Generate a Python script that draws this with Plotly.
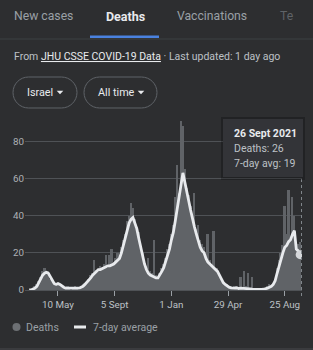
import pandas as pd
import plotly.graph_objects as go

# ---------------- data ----------------
start_date = "2020-03-11"
n_points = 142  # one value every 4 days up to 26 Sept 2021
dates = pd.date_range(start_date, periods=n_points, freq="4D")

avg_7day = [
    0, 0, 0.5, 1, 2, 4, 6, 8, 9, 9.5,
    9, 7, 5, 3.5, 3, 3.5, 3, 2, 1.5, 1,
    1, 1, 0.8, 1, 1, 1.2, 1, 1.5, 2, 3,
    4, 5, 6.5, 8, 9, 10, 11, 11, 11.5, 12,
    12.5, 13, 13, 13.5, 14, 15, 16, 17, 20, 24,
    28, 32, 36, 38, 39, 36, 33, 28, 23, 18,
    14, 11, 9, 8, 7.5, 7, 6.5, 6.5, 8, 10,
    12, 15, 18, 22, 27, 31, 37, 43, 49, 55,
    63, 58, 52, 48, 43, 38, 34, 30, 26, 23,
    21, 20, 17, 15, 14, 13, 12, 11, 10, 8,
    6, 4, 3, 2, 1.5, 1.2, 1, 1, 1.2, 0.8,
    1, 1, 0.8, 1, 0.8, 0.6, 0.5, 0.4, 0.4, 0.3,
    0.4, 0.3, 0.4, 0.5, 1, 1.5, 2, 3, 5, 9,
    13, 17, 20, 23, 24, 26, 27, 30, 32, 22,
    21, 19,
]

deaths = [
    0, 0, 1, 2, 3, 5, 7, 10, 12, 9,
    10, 6, 5, 4, 2, 4, 3, 2, 1, 1,
    2, 1, 0, 1, 2, 1, 0, 2, 3, 4,
    3, 6, 8, 9, 16, 11, 10, 13, 12, 14,
    19, 12, 19, 22, 15, 17, 20, 19, 23, 27,
    30, 37, 40, 47, 44, 38, 34, 31, 22, 20,
    15, 12, 17, 10, 9, 27, 8, 7, 9, 12,
    14, 17, 22, 25, 30, 35, 50, 67, 52, 91,
    88, 65, 55, 51, 45, 40, 52, 33, 35, 27,
    25, 23, 19, 30, 16, 14, 32, 12, 12, 9,
    7, 5, 3, 3, 2, 2, 1, 2, 1, 1,
    7, 1, 10, 2, 9, 1, 7, 1, 0, 1,
    1, 0, 1, 1, 2, 3, 2, 4, 6, 12,
    16, 20, 24, 45, 30, 54, 28, 50, 40, 26,
    25, 26,
]

tick_dates = ["2020-05-10", "2020-09-05", "2021-01-01", "2021-04-29", "2021-08-25"]
tick_labels = ["10 May", "5 Sept", "1 Jan", "29 Apr", "25 Aug"]
y_ticks = [0, 20, 40, 60, 80]

tabs = ["New cases", "Deaths", "Vaccinations", "Te"]
source_name = "JHU CSSE COVID-19 Data"
country = "Israel"
period = "All time"
hover_date = "26 Sept 2021"

# ---------------- style / layout ----------------
W, H = 313, 350
L, R, T, B = 25, 11, 119, 60
BG = "#2d2e30"
FONT = "Roboto"
GRID = "#4f5256"
MUTED = "#9aa0a6"
LIGHT = "#e8eaed"

PW = W - L - R
PH = H - T - B


def px(x):
    return (x - L) / PW


def py(y):
    return (H - B - y) / PH


fig = go.Figure()
fig.add_trace(go.Bar(
    x=dates, y=deaths, width=4 * 86400000,
    marker=dict(color="#606367", line=dict(width=0)),
    name="Deaths", hoverinfo="skip",
))
fig.add_trace(go.Scatter(
    x=dates, y=avg_7day, mode="lines",
    line=dict(color=LIGHT, width=2.8),
    name="7-day average", hoverinfo="skip",
))
fig.add_trace(go.Scatter(
    x=[dates[-1]], y=[avg_7day[-1]], mode="markers",
    marker=dict(size=9, color="#d5d7da"), hoverinfo="skip", showlegend=False,
))

shapes = []
annotations = []


def text(x, y, s, size=12, color=MUTED, bold=False, anchor="left"):
    if bold:
        s = "<b>" + s + "</b>"
    annotations.append(dict(
        x=px(x), y=py(y), xref="paper", yref="paper", text=s, showarrow=False,
        xanchor=anchor, yanchor="middle",
        font=dict(family=FONT, size=size, color=color),
    ))


def rect(x0, y0, x1, y1, fill, line=None):
    shapes.append(dict(
        type="rect", xref="paper", yref="paper",
        x0=px(x0), x1=px(x1), y0=py(y1), y1=py(y0),
        fillcolor=fill, line=dict(width=0) if line is None else line,
        layer="above",
    ))


def pill(x0, y0, x1, y1, color):
    r = (y1 - y0) / 2
    k = 0.5523 * r
    ym = (y0 + y1) / 2

    def p(x, y):
        return f"{px(x):.5f},{py(y):.5f}"

    d = (
        f"M{p(x0 + r, y0)} L{p(x1 - r, y0)} "
        f"C{p(x1 - r + k, y0)} {p(x1, ym - k)} {p(x1, ym)} "
        f"C{p(x1, ym + k)} {p(x1 - r + k, y1)} {p(x1 - r, y1)} "
        f"L{p(x0 + r, y1)} "
        f"C{p(x0 + r - k, y1)} {p(x0, ym + k)} {p(x0, ym)} "
        f"C{p(x0, ym - k)} {p(x0 + r - k, y0)} {p(x0 + r, y0)} Z"
    )
    shapes.append(dict(type="path", xref="paper", yref="paper", path=d,
                       line=dict(color=color, width=1), layer="above"))


def tri(cx, cy, color):
    d = (f"M{px(cx - 3.3):.5f},{py(cy - 1.7):.5f} L{px(cx + 3.3):.5f},{py(cy - 1.7):.5f} "
         f"L{px(cx):.5f},{py(cy + 1.8):.5f} Z")
    shapes.append(dict(type="path", xref="paper", yref="paper", path=d,
                       fillcolor=color, line=dict(width=0), layer="above"))


# tabs
text(12, 16, tabs[0], 12.2, MUTED)
text(104, 16, tabs[1], 12.5, LIGHT, bold=True)
text(175, 16, tabs[2], 12.2, MUTED)
text(278, 16, tabs[3], 12.2, "#5f6368")
rect(90, 35.5, 159, 38, "#4a82e0")
rect(0, 38.5, W, 39.5, "#3c4043")

# source line
annotations.append(dict(
    x=px(12), y=py(56.5), xref="paper", yref="paper", showarrow=False,
    xanchor="left", yanchor="middle",
    text=("From <span style='text-decoration:underline;color:#e8eaed'>" + source_name +
          "</span> · Last updated: 1 day ago"),
    font=dict(family=FONT, size=10.5, color="#bdc1c6"),
))

# filter pills
pill(13, 77, 77, 108, "#5f6368")
pill(84, 77, 157, 108, "#5f6368")
text(24.5, 92.5, country, 10.8, LIGHT)
tri(60, 92.5, LIGHT)
text(95.5, 92.5, period, 10.8, LIGHT)
tri(141, 92.5, LIGHT)

# hover guide + tooltip
shapes.append(dict(type="line", xref="paper", yref="paper",
                   x0=px(301.5), x1=px(301.5), y0=py(296), y1=py(176),
                   line=dict(color="#80868b", width=1, dash="dot"), layer="above"))
rect(221, 117, 305, 180, "rgba(0,0,0,0.25)")
rect(223, 119, 303, 177, "#333438")
text(231.5, 133, hover_date, 10.5, LIGHT, bold=True)
text(231.5, 148, f"Deaths: {deaths[-1]}", 10.5, "#bdc1c6")
text(231.5, 163, f"7-day avg: {avg_7day[-1]:g}", 10.5, "#bdc1c6")

# legend
shapes.append(dict(type="circle", xref="paper", yref="paper",
                   x0=px(12.5), x1=px(20.5), y0=py(331), y1=py(323),
                   fillcolor="#6d7074", line=dict(width=0), layer="above"))
text(23.5, 327, "Deaths", 10.5, MUTED)
shapes.append(dict(type="line", xref="paper", yref="paper",
                   x0=px(74), x1=px(86), y0=py(327), y1=py(327),
                   line=dict(color=LIGHT, width=3), layer="above"))
text(90.5, 327, "7-day average", 10.5, MUTED)
rect(0, 348, W, 350, "#3a3b3e")

fig.update_layout(
    width=W, height=H,
    margin=dict(l=L, r=R, t=T, b=B, pad=0),
    paper_bgcolor=BG, plot_bgcolor=BG,
    showlegend=False, bargap=0,
    xaxis=dict(
        type="date", range=["2020-03-02 08:00", "2021-09-29 20:00"],
        tickvals=tick_dates, ticktext=tick_labels,
        ticks="outside", ticklen=5, tickcolor="#9aa0a6", tickwidth=1,
        showgrid=False, zeroline=False, showline=False,
        tickfont=dict(family=FONT, size=9.8, color="#bdc1c6"),
        fixedrange=True,
    ),
    yaxis=dict(
        range=[0, 92], tickvals=y_ticks,
        showgrid=True, gridcolor=GRID, gridwidth=1,
        zeroline=True, zerolinecolor=GRID, zerolinewidth=1,
        showline=False, ticks="",
        tickfont=dict(family=FONT, size=9.8, color="#aeb1b5"),
        fixedrange=True,
    ),
    shapes=shapes,
    annotations=annotations,
)

fig.write_html("out.html", config=dict(displayModeBar=False))
